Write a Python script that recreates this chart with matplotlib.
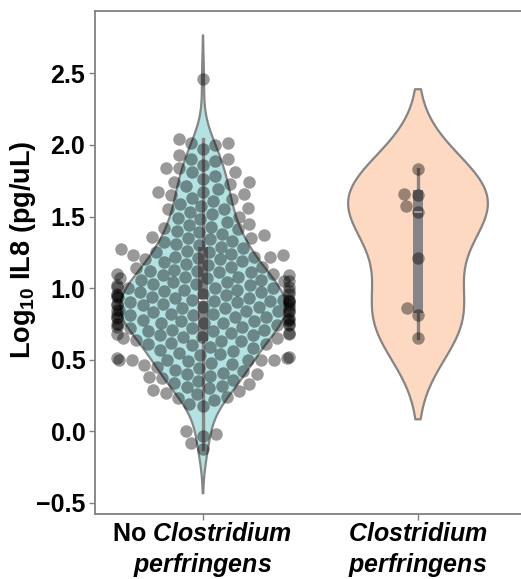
import numpy as np
import pandas as pd
import matplotlib
matplotlib.use('Agg')
import matplotlib.pyplot as plt
import seaborn as sns

# ----------------------------------------------------------------
# Data (log10 IL8, pg/uL)
# ----------------------------------------------------------------
groups = ['No Clostridium perfringens', 'Clostridium perfringens']

il8_no_cp = [
    2.46,
    2.04, 2.01, 2.01, 2.00,
    1.97, 1.93, 1.90, 1.90, 1.89,
    1.86, 1.84, 1.84, 1.81, 1.81,
    1.78, 1.76, 1.74, 1.74, 1.73, 1.71,
    1.69, 1.67, 1.67, 1.66, 1.65, 1.63, 1.62, 1.61,
    1.59, 1.57, 1.56, 1.55, 1.55, 1.53, 1.52, 1.50,
    1.49, 1.48, 1.46, 1.45, 1.44, 1.43, 1.42, 1.41, 1.40,
    1.39, 1.38, 1.37, 1.36, 1.35, 1.35, 1.34, 1.33, 1.32, 1.31, 1.30,
    1.29, 1.28, 1.27, 1.26, 1.25, 1.25, 1.24, 1.23, 1.23, 1.22,
    1.22, 1.22, 1.21, 1.20, 1.20,
    1.19, 1.18, 1.17, 1.16, 1.15, 1.15, 1.14, 1.13, 1.12,
    1.12, 1.11, 1.11, 1.10, 1.10,
    1.09, 1.09, 1.08, 1.08, 1.07, 1.07, 1.06, 1.06, 1.05, 1.05, 1.04, 1.04,
    1.03, 1.03, 1.02, 1.02, 1.01, 1.01, 1.00, 1.00, 1.00,
    0.99, 0.99, 0.98, 0.98, 0.97, 0.97, 0.96, 0.96, 0.96, 0.95, 0.95, 0.94,
    0.94, 0.94, 0.93, 0.93, 0.92, 0.92, 0.92, 0.91, 0.91, 0.91, 0.90, 0.90, 0.90,
    0.89, 0.89, 0.88, 0.88, 0.88, 0.87, 0.87, 0.86, 0.86, 0.86, 0.85, 0.85,
    0.84, 0.84, 0.84, 0.83, 0.83, 0.82, 0.82, 0.82, 0.81, 0.81, 0.80, 0.80, 0.80,
    0.79, 0.79, 0.78, 0.78, 0.78, 0.77, 0.77, 0.76, 0.76, 0.76, 0.75, 0.75, 0.75,
    0.74, 0.74, 0.73, 0.73, 0.72, 0.72, 0.71, 0.71, 0.70, 0.70,
    0.69, 0.69, 0.68, 0.68, 0.67, 0.67, 0.66, 0.66, 0.65, 0.65, 0.64,
    0.63, 0.63, 0.62, 0.61, 0.61, 0.60,
    0.59, 0.58, 0.57, 0.56, 0.55, 0.54, 0.53, 0.52, 0.51, 0.51,
    0.50, 0.50, 0.50, 0.50, 0.50, 0.50,
    0.49, 0.48, 0.47, 0.46, 0.45, 0.44, 0.43, 0.42, 0.41, 0.40, 0.40,
    0.39, 0.38, 0.37, 0.36, 0.35, 0.34, 0.33, 0.32, 0.31,
    0.30, 0.29, 0.28, 0.27, 0.26, 0.24, 0.23, 0.22,
    0.19, 0.18,
    0.00, -0.02, -0.03, -0.08, -0.12,
]

il8_cp = [0.65, 0.81, 0.86, 1.21, 1.53, 1.57, 1.65, 1.66, 1.83]

violin_colors = ['#b3e2e2', '#fdd9c1']

df_no = pd.DataFrame({'group': groups[0], 'il8': il8_no_cp})
df_cp = pd.DataFrame({'group': groups[1], 'il8': il8_cp})
df = pd.concat([df_no, df_cp], ignore_index=True)

# ----------------------------------------------------------------
# Fonts
# ----------------------------------------------------------------
plt.rcParams['font.family'] = ['Liberation Sans', 'DejaVu Sans']
plt.rcParams['mathtext.fontset'] = 'custom'
plt.rcParams['mathtext.rm'] = 'Liberation Sans:bold'
plt.rcParams['mathtext.bf'] = 'Liberation Sans:bold'
plt.rcParams['mathtext.it'] = 'Liberation Sans:italic:bold'

# ----------------------------------------------------------------
# Plot
# ----------------------------------------------------------------
fig = plt.figure(figsize=(5.21, 5.79), dpi=100)
ax = fig.add_axes([95 / 521, 1 - 514 / 579, (525 - 95) / 521, 503 / 579])

# one call per group so each violin keeps its own width
for sub, col, w in [(df_no, violin_colors[0], 0.77),
                    (df_cp, violin_colors[1], 0.65)]:
    sns.violinplot(data=sub, x='group', y='il8', order=groups,
                   color=col, saturation=1, linecolor='#858585',
                   linewidth=1.6, cut=2, width=w, inner='box', ax=ax)
sns.swarmplot(data=df, x='group', y='il8', order=groups, color='black',
              alpha=0.4, size=9, ax=ax)

ax.set_xlim(-0.5, 1.5)
ax.set_ylim(-0.577, 2.935)
ax.set_yticks([-0.5, 0.0, 0.5, 1.0, 1.5, 2.0, 2.5])
ax.set_yticklabels(['\u22120.5', '0.0', '0.5', '1.0', '1.5', '2.0', '2.5'])
ax.set_xticks([0, 1])
ax.set_xticklabels(['No $\\mathit{Clostridium}$\n$\\mathit{perfringens}$',
                    '$\\mathit{Clostridium}$\n$\\mathit{perfringens}$'])

ax.set_xlabel('')
ax.set_ylabel('Log$_{10}$ IL8 (pg/uL)', fontsize=19.5, fontweight='bold')
ax.yaxis.set_label_coords(-0.133, 0.525)
ax.tick_params(axis='y', labelsize=18, length=4, color='#808080', width=1,
               pad=3)
ax.tick_params(axis='x', labelsize=18, length=4, color='#808080', width=1,
               pad=2)
for lbl in ax.get_yticklabels() + ax.get_xticklabels():
    lbl.set_fontweight('bold')
for s in ax.spines.values():
    s.set_color('#808080')
    s.set_linewidth(1.3)

fig.savefig('out.png', dpi=100)
